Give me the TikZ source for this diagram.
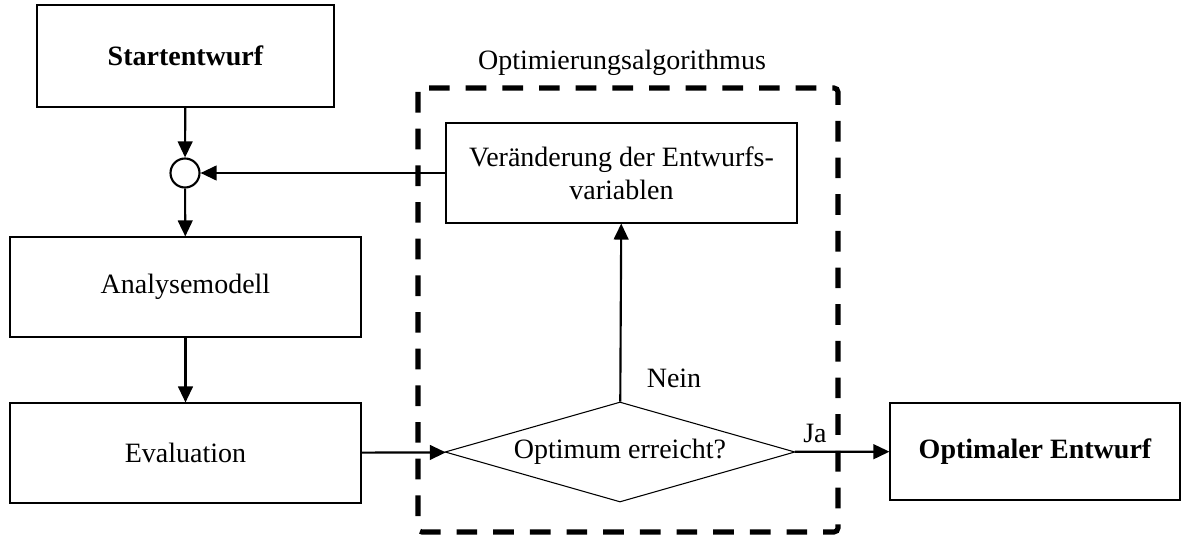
\documentclass[tikz,border=0pt]{standalone}
\usepackage{fontspec}
\setmainfont{Liberation Serif}
\usetikzlibrary{shapes.geometric,arrows.meta}
\begin{document}
\begin{tikzpicture}[x=0.75pt,y=-0.75pt,
  every node/.style={font=\fontsize{21}{25}\selectfont},
  blk/.style={draw,line width=0.8pt,inner sep=0pt,align=center},
  arr/.style={line width=1.6pt,-{Triangle[length=12pt,width=11pt]}},
  lbl/.style={inner sep=0pt}]
\useasboundingbox (0,0) rectangle (1189,535);
\node[blk,minimum width=297*0.75pt,minimum height=102*0.75pt,font=\fontsize{21}{25}\selectfont\bfseries] (start) at (185.5,56) {Startentwurf};
\node[draw,circle,line width=1.6pt,minimum size=29*0.75pt,inner sep=0pt] (sum) at (185,173) {};
\node[blk,minimum width=351*0.75pt,minimum height=100*0.75pt] (ana) at (185.5,287) {Analysemodell};
\node[blk,minimum width=351*0.75pt,minimum height=100*0.75pt] (eval) at (185.5,453) {Evaluation};
\node[blk,minimum width=351*0.75pt,minimum height=100*0.75pt] (var) at (621.5,173) {Veränderung der Entwurfs-\\variablen};
\node[blk,diamond,aspect=3.5,minimum width=350*0.75pt,minimum height=100*0.75pt] (opt) at (620,452) {Optimum erreicht?};
\node[blk,minimum width=290*0.75pt,minimum height=97*0.75pt,font=\fontsize{21}{25}\selectfont\bfseries] (end) at (1035,451.5) {Optimaler Entwurf};
\node[lbl] (algo) at (622,63) {Optimierungsalgorithmus};
\node[lbl] (ja) at (815,433) {Ja};
\node[lbl] (nein) at (674,378) {Nein};
\draw[line width=3.8pt,dash pattern=on 15.5pt off 12pt,rounded corners=3pt] (418,88) rectangle (838,532);
\draw[arr] (start) -- (sum);
\draw[arr] (sum) -- (ana);
\draw[arr] (ana) -- (eval);
\draw[arr] (var) -- (sum);
\draw[arr] (eval) -- (opt);
\draw[arr] (opt) -- (var);
\draw[arr] (opt) -- (end);
\end{tikzpicture}
\end{document}
